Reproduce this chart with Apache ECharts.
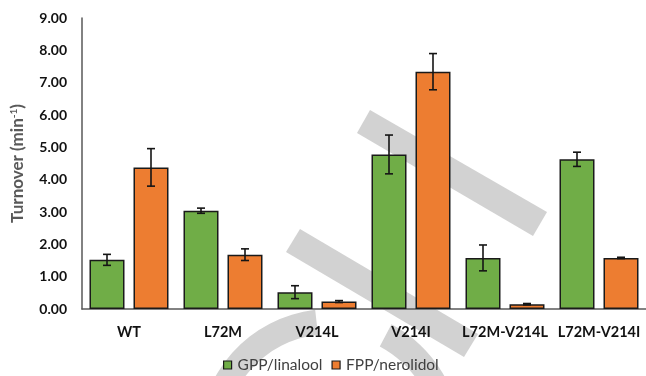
<!DOCTYPE html>
<html>
<head>
<meta charset="utf-8">
<script src="https://cdn.jsdelivr.net/npm/echarts@6/dist/echarts.min.js"></script>
<style>
  html, body { margin: 0; padding: 0; background: #ffffff; }
  #chart { width: 646px; height: 376px; }
</style>
</head>
<body>
<div id="chart"></div>
<script>
// Enzyme variants on the category axis
const categories = ['WT', 'L72M', 'V214L', 'V214I', 'L72M-V214L', 'L72M-V214I'];

// Turnover (min^-1) with linalool from GPP, and its error
const gppValues = [1.52, 3.04, 0.52, 4.78, 1.58, 4.63];
const gppErrors = [0.17, 0.08, 0.20, 0.60, 0.40, 0.22];

// Turnover (min^-1) with nerolidol from FPP, and its error
const fppValues = [4.38, 1.68, 0.23, 7.34, 0.15, 1.58];
const fppErrors = [0.58, 0.18, 0.03, 0.56, 0.02, 0.02];

// Value axis range
const yMin = 0;
const yMax = 9;
const yStep = 1;

const FONT = 'Lato, "Open Sans", sans-serif';
const BAR_W = 35;
const BAR_GAP_PX = 9;
const HALF_PAIR = (BAR_W + BAR_GAP_PX) / 2;

function errorBars(values, errors, side) {
  return {
    type: 'custom',
    z: 10,
    silent: true,
    data: values.map((v, i) => [i, v, errors[i]]),
    renderItem(params, api) {
      const i = api.value(0);
      const v = api.value(1);
      const e = api.value(2);
      const hi = api.coord([i, v + e]);
      const lo = api.coord([i, v - e]);
      const x = hi[0] + side * HALF_PAIR;
      const cap = 4;
      const style = { stroke: '#151515', lineWidth: 1.6 };
      return {
        type: 'group',
        children: [
          { type: 'line', shape: { x1: x, y1: hi[1], x2: x, y2: lo[1] }, style },
          { type: 'line', shape: { x1: x - cap, y1: hi[1], x2: x + cap, y2: hi[1] }, style },
          { type: 'line', shape: { x1: x - cap, y1: lo[1], x2: x + cap, y2: lo[1] }, style }
        ]
      };
    }
  };
}

const chart = echarts.init(document.getElementById('chart'), null, { renderer: 'canvas' });

// Light gray background strokes behind the plot
const strokeColor = '#d2d2d2';
const backdrop = [
  { type: 'polygon', z: -10, shape: { points: [[370, 110], [547, 212], [533, 236], [357, 133]] }, style: { fill: strokeColor } },
  { type: 'polygon', z: -10, shape: { points: [[300, 229], [478, 334], [464, 357], [286, 252]] }, style: { fill: strokeColor } },
  { type: 'sector', z: -10, shape: { cx: 330, cy: 440, r0: 106, r: 131, startAngle: Math.PI, endAngle: 263.5 * Math.PI / 180, clockwise: true }, style: { fill: strokeColor } },
  { type: 'sector', z: -10, shape: { cx: 330, cy: 440, r0: 106, r: 131, startAngle: 298 * Math.PI / 180, endAngle: 2 * Math.PI, clockwise: true }, style: { fill: strokeColor } }
];

chart.setOption({
  backgroundColor: '#ffffff',
  animation: false,
  textStyle: { fontFamily: FONT },
  graphic: { elements: backdrop },
  grid: { left: 82, top: 18, bottom: 67, width: 576, containLabel: false },
  legend: {
    data: ['GPP/linalool', 'FPP/nerolidol'],
    left: 223,
    top: 357,
    padding: 0,
    itemWidth: 8,
    itemHeight: 8,
    itemGap: 9,
    icon: 'rect',
    itemStyle: { borderColor: '#1a1a1a', borderWidth: 1.2 },
    textStyle: { fontFamily: FONT, fontSize: 15.5, color: '#404040', padding: [0, 0, 0, 1] }
  },
  xAxis: {
    type: 'category',
    data: categories,
    axisLine: { lineStyle: { color: '#595959', width: 1.5 } },
    axisTick: { show: false },
    axisLabel: { interval: 0, fontFamily: FONT, fontWeight: 'bold', fontSize: 14.5, color: '#111111', margin: 16 },
    splitLine: { show: false }
  },
  yAxis: {
    type: 'value',
    min: yMin,
    max: yMax,
    interval: yStep,
    name: 'Turnover (min{sup|-1})',
    nameLocation: 'middle',
    nameGap: 55,
    nameRotate: 90,
    nameTextStyle: {
      fontFamily: FONT, fontSize: 17, fontWeight: 'bold', color: '#595959',
      rich: { sup: { fontFamily: FONT, fontSize: 10, fontWeight: 'bold', color: '#595959', verticalAlign: 'top', padding: [0, 0, 8, 0] } }
    },
    axisLine: { show: true, lineStyle: { color: '#595959', width: 1.5 } },
    axisTick: { show: false },
    splitLine: { show: false },
    axisLabel: {
      fontFamily: FONT, fontWeight: 'bold', fontSize: 14, color: '#111111', margin: 15,
      formatter: v => v.toFixed(2)
    }
  },
  series: [
    {
      name: 'GPP/linalool',
      type: 'bar',
      data: gppValues,
      barWidth: BAR_W,
      barGap: (BAR_GAP_PX / BAR_W * 100).toFixed(1) + '%',
      itemStyle: { color: '#70ad47', borderColor: '#1a1a1a', borderWidth: 1.5 }
    },
    {
      name: 'FPP/nerolidol',
      type: 'bar',
      data: fppValues,
      barWidth: BAR_W,
      barGap: (BAR_GAP_PX / BAR_W * 100).toFixed(1) + '%',
      itemStyle: { color: '#ed7d31', borderColor: '#1a1a1a', borderWidth: 1.5 }
    },
    errorBars(gppValues, gppErrors, -1),
    errorBars(fppValues, fppErrors, 1)
  ]
});
</script>
</body>
</html>
